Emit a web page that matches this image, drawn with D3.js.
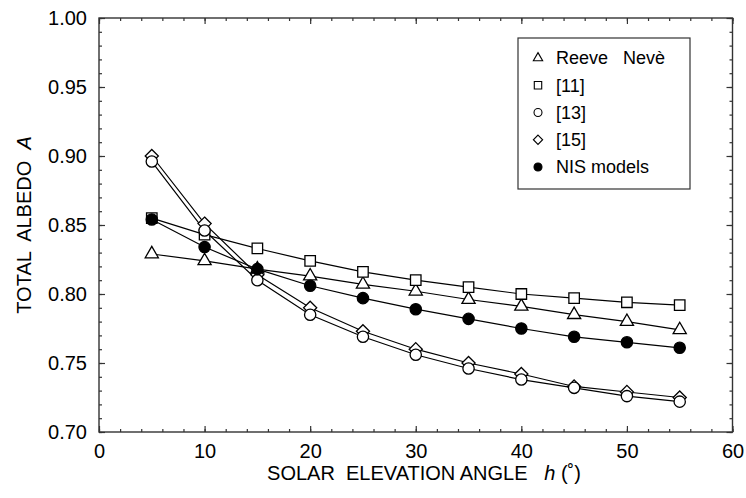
<!DOCTYPE html>
<html>
<head>
<meta charset="utf-8">
<script src="https://cdn.jsdelivr.net/npm/d3@7"></script>
<style>
  body { margin: 0; background: #fff; }
  text { font-family: "Liberation Sans", Arial, sans-serif; fill: #000; }
</style>
</head>
<body>
<div id="viz"></div>
<script>
var width = 746;
var height = 498;

// data
var angles = [5, 10, 15, 20, 25, 30, 35, 40, 45, 50, 55];
var reeve = [0.829, 0.824, 0.818, 0.813, 0.807, 0.802, 0.796, 0.791, 0.785, 0.780, 0.774];
var ref11 = [0.855, 0.843, 0.833, 0.824, 0.816, 0.810, 0.805, 0.800, 0.797, 0.794, 0.792];
var ref13 = [0.896, 0.846, 0.810, 0.785, 0.769, 0.756, 0.746, 0.738, 0.732, 0.726, 0.722];
var ref15 = [0.900, 0.851, 0.814, 0.790, 0.773, 0.760, 0.750, 0.742, 0.733, 0.729, 0.725];
var nis = [0.854, 0.834, 0.818, 0.806, 0.797, 0.789, 0.782, 0.775, 0.769, 0.765, 0.761];

var xTicks = [0, 10, 20, 30, 40, 50, 60];
var yTicks = [0.70, 0.75, 0.80, 0.85, 0.90, 0.95, 1.00];
var legendLabels = ["Reeve   Nevè", "[11]", "[13]", "[15]", "NIS models"];

var series = [
  {name: legendLabels[0], values: reeve, type: d3.symbolTriangle, size: 75, fill: "#fff"},
  {name: legendLabels[1], values: ref11, type: d3.symbolSquare, size: 110, fill: "#fff"},
  {name: legendLabels[3], values: ref15, type: d3.symbolDiamond2, size: 110, fill: "#fff"},
  {name: legendLabels[2], values: ref13, type: d3.symbolCircle, size: 100, fill: "#fff"},
  {name: legendLabels[4], values: nis, type: d3.symbolCircle, size: 100, fill: "#000"}
];

var pLeft = 99, pRight = 732.5, pTop = 18, pBottom = 432;

var svg = d3.select("#viz")
    .append("svg")
    .attr("width", width)
    .attr("height", height);

var x = d3.scaleLinear().domain([0, 60]).range([pLeft, pRight]);
var y = d3.scaleLinear().domain([0.70, 1.00]).range([pBottom, pTop]);

// frame with inward ticks on all sides
function tickAxis(axisFn, scale, major, minor, fmt, showLabels) {
  var a = axisFn(scale).tickValues(minor).tickSizeInner(-3).tickSizeOuter(0).tickFormat("");
  var b = axisFn(scale).tickValues(major).tickSizeInner(-6).tickSizeOuter(0)
      .tickPadding(showLabels ? 12 : 0).tickFormat(showLabels ? fmt : "");
  return [a, b];
}

var xMinor = d3.range(0, 61, 2);
var yMinor = d3.range(70, 101, 1).map(function(d) { return d / 100; });

var axes = [
  {fn: d3.axisBottom, s: x, pos: "translate(0," + pBottom + ")", major: xTicks, minor: xMinor, fmt: d3.format("d"), lab: true},
  {fn: d3.axisTop, s: x, pos: "translate(0," + pTop + ")", major: xTicks, minor: xMinor, fmt: d3.format("d"), lab: false},
  {fn: d3.axisLeft, s: y, pos: "translate(" + pLeft + ",0)", major: yTicks, minor: yMinor, fmt: d3.format(".2f"), lab: true},
  {fn: d3.axisRight, s: y, pos: "translate(" + pRight + ",0)", major: yTicks, minor: yMinor, fmt: d3.format(".2f"), lab: false}
];

axes.forEach(function(ax) {
  tickAxis(ax.fn, ax.s, ax.major, ax.minor, ax.fmt, ax.lab).forEach(function(gen) {
    var g = svg.append("g").attr("transform", ax.pos).call(gen);
    g.select(".domain").remove();
    g.selectAll("line").attr("stroke", "#333").attr("stroke-width", 1.2);
    g.selectAll("text").attr("font-size", "20px").attr("fill", "#000")
      .style("font-family", "'Liberation Sans', Arial, sans-serif");
  });
});

svg.append("rect")
    .attr("x", pLeft).attr("y", pTop)
    .attr("width", pRight - pLeft).attr("height", pBottom - pTop)
    .attr("fill", "none").attr("stroke", "#333").attr("stroke-width", 1.4);

// axis titles
svg.append("text")
    .attr("x", 424).attr("y", 480)
    .attr("text-anchor", "middle")
    .attr("font-size", "20px")
    .attr("xml:space", "preserve")
    .html('SOLAR  ELEVATION ANGLE   <tspan font-style="italic">h</tspan> (˚)');

svg.append("text")
    .attr("transform", "translate(31,225) rotate(-90)")
    .attr("text-anchor", "middle")
    .attr("font-size", "20px")
    .attr("xml:space", "preserve")
    .html('TOTAL  ALBEDO  <tspan font-style="italic">A</tspan>');

// lines
var line = d3.line()
    .x(function(d, i) { return x(angles[i]); })
    .y(function(d) { return y(d); });

series.forEach(function(s) {
  svg.append("path")
      .attr("d", line(s.values))
      .attr("fill", "none")
      .attr("stroke", "#000")
      .attr("stroke-width", 1.2);
});

// markers
series.forEach(function(s) {
  svg.selectAll(null)
      .data(s.values)
      .enter()
      .append("path")
      .attr("transform", function(d, i) { return "translate(" + x(angles[i]) + "," + y(d) + ")"; })
      .attr("d", d3.symbol().type(s.type).size(s.size))
      .attr("fill", s.fill)
      .attr("stroke", "#000")
      .attr("stroke-width", 1.3);
});

// legend
var legend = svg.append("g");
legend.append("rect")
    .attr("x", 518).attr("y", 38)
    .attr("width", 172).attr("height", 151)
    .attr("fill", "#fff").attr("stroke", "#333").attr("stroke-width", 1.2);

var legendOrder = [series[0], series[1], series[3], series[2], series[4]];
var rowY = d3.scalePoint().domain(d3.range(5)).range([58, 167]);

legendOrder.forEach(function(s, i) {
  legend.append("path")
      .attr("transform", "translate(538," + rowY(i) + ")")
      .attr("d", d3.symbol().type(s.type).size(s.size * 0.5))
      .attr("fill", s.fill)
      .attr("stroke", "#000")
      .attr("stroke-width", 1.1);
  legend.append("text")
      .attr("x", 556).attr("y", rowY(i))
      .attr("dy", "0.35em")
      .attr("font-size", "18px")
      .attr("xml:space", "preserve")
      .text(s.name);
});
</script>
</body>
</html>
